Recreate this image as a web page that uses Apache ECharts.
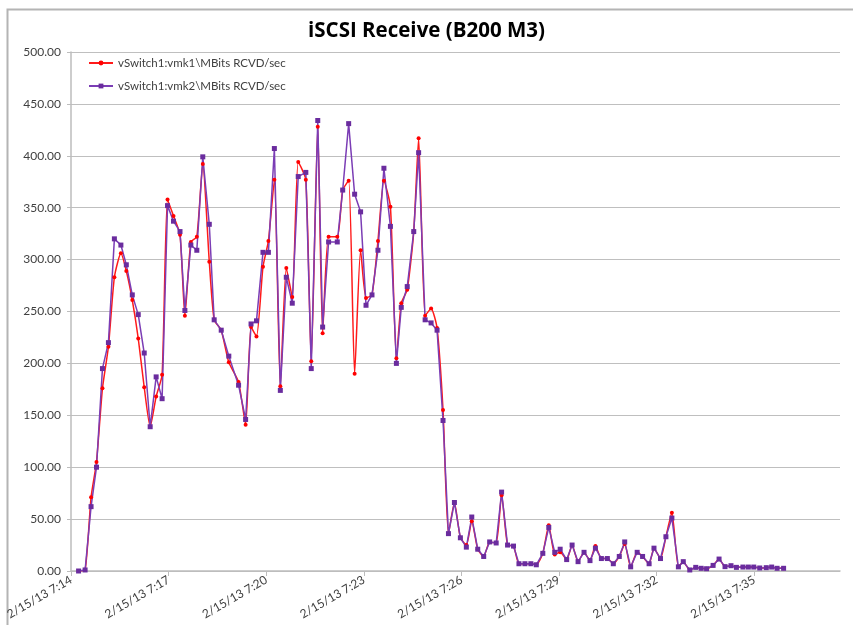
<!DOCTYPE html>
<html>
<head>
<meta charset="utf-8">
<title>iSCSI Receive (B200 M3)</title>
<script src="https://cdn.jsdelivr.net/npm/echarts@6/dist/echarts.min.js"></script>
<style>
  html, body { margin: 0; padding: 0; background: #fff; }
  #chart { width: 853px; height: 625px; }
</style>
</head>
<body>
<div id="chart"></div>
<script>
  // sample times, seconds after 2/15/13 7:14:00 (esxtop samples, not quite regular)
  const sampleSecs = [
    14, 26, 37, 47, 58, 69, 80, 92, 102, 113,
    124, 135, 146, 157, 168, 178, 189, 201, 210, 221,
    232, 243, 255, 264, 277, 291, 309, 322, 332, 342,
    354, 364, 375, 386, 397, 408, 419, 433, 443, 455,
    464, 475, 491, 501, 512, 523, 534, 544, 555, 566,
    577, 589, 600, 609, 620, 632, 641, 653, 664, 675,
    686, 696, 707, 718, 729, 739, 750, 761, 772, 784,
    794, 805, 816, 826, 837, 848, 858, 870, 881, 892,
    902, 914, 924, 935, 946, 957, 967, 978, 989, 1000,
    1011, 1021, 1032, 1044, 1054, 1066, 1075, 1087, 1097, 1108,
    1120, 1129, 1141, 1152, 1162, 1172, 1184, 1195, 1206, 1217,
    1227, 1239, 1249, 1259, 1270, 1282, 1292, 1302, 1314
  ];

  // vSwitch1:vmk1\MBits RCVD/sec
  const vmk1 = [
    0, 1, 71, 105, 176, 216, 283, 306, 289, 261,
    224, 177, 139, 168, 189, 358, 342, 324, 246, 317,
    322, 392, 298, 242, 232, 201, 182, 141, 235, 226,
    293, 318, 377, 178, 292, 264, 394, 377, 202, 428,
    229, 322, 322, 367, 376, 190, 309, 263, 266, 318,
    376, 351, 205, 258, 271, 327, 417, 246, 253, 234,
    155, 36, 66, 32, 25, 48, 21, 14, 28, 27,
    73, 25, 24, 7, 7, 7, 6, 17, 44, 16,
    18, 11, 25, 9, 18, 10, 24, 12, 12, 7,
    14, 26, 4, 18, 14, 7, 22, 12, 33, 56,
    4, 9, 1, 3.5, 2.6, 2.2, 5.4, 11.5, 4.2, 5.1,
    3.5, 3.8, 3.8, 3.8, 2.9, 3.2, 3.8, 2.6, 2.6
  ];

  // vSwitch1:vmk2\MBits RCVD/sec
  const vmk2 = [
    0, 1, 62, 100, 195, 220, 320, 314, 295, 266,
    247, 210, 139, 187, 166, 352, 337, 327, 251, 314,
    309, 399, 334, 242, 232, 207, 179, 146, 238, 241,
    307, 307, 407, 174, 283, 258, 380, 384, 195, 434,
    235, 317, 317, 367, 431, 363, 346, 256, 266, 309,
    388, 332, 200, 254, 274, 327, 403, 242, 239, 232,
    145, 36, 66, 32, 23, 52, 21, 14, 28, 27,
    76, 25, 24, 7, 7, 7, 6, 17, 42, 18,
    21, 11, 25, 9, 18, 10, 22, 12, 12, 7,
    14, 28, 4, 18, 14, 7, 22, 12, 33, 51,
    4, 9, 1, 3.5, 2.6, 2.2, 5.4, 11.5, 4.2, 5.1,
    3.5, 3.8, 3.8, 3.8, 2.9, 3.2, 3.8, 2.6, 2.6
  ];

  const tickLabels = [
    '2/15/13 7:14', '2/15/13 7:17', '2/15/13 7:20', '2/15/13 7:23',
    '2/15/13 7:26', '2/15/13 7:29', '2/15/13 7:32', '2/15/13 7:35'
  ];
  const tickStep = 180;   // 3 minutes
  const axisEnd = 1418;

  const names = ['vSwitch1:vmk1\\MBits RCVD/sec', 'vSwitch1:vmk2\\MBits RCVD/sec'];
  const font = 'Lato, "Open Sans", sans-serif';

  function pairs(vals) {
    return vals.map(function (v, i) { return [sampleSecs[i], v]; });
  }

  let myChart = echarts.init(document.getElementById('chart'));

  myChart.setOption({
    animation: false,
    backgroundColor: '#fff',
    title: {
      text: 'iSCSI Receive (B200 M3)',
      left: 'center',
      top: 21,
      padding: [0, 0, 0, 59],
      textStyle: { fontFamily: '"Open Sans", Lato, sans-serif', fontWeight: 'bold', fontSize: 20.5, color: '#000' }
    },
    legend: {
      orient: 'vertical',
      left: 83,
      top: 52,
      itemGap: 11,
      itemWidth: 24,
      itemHeight: 6,
      data: names,
      textStyle: { fontFamily: font, fontSize: 11.5, color: '#404040' }
    },
    grid: { left: 71, right: 13, top: 52, bottom: 54 },
    xAxis: {
      type: 'value',
      min: 0,
      max: axisEnd,
      interval: tickStep,
      axisLine: { show: true, lineStyle: { color: '#bdbdbd', width: 1.5 } },
      axisTick: { show: true, length: 5, lineStyle: { color: '#bdbdbd' } },
      splitLine: { show: false },
      axisLabel: {
        rotate: 30,
        margin: 8,
        color: '#404040',
        fontFamily: font,
        fontSize: 12,
        showMaxLabel: false,
        formatter: function (v) {
          if (v % tickStep !== 0) return '';
          return tickLabels[v / tickStep] || '';
        }
      }
    },
    yAxis: {
      type: 'value',
      min: 0,
      max: 500,
      interval: 50,
      axisLine: { show: true, lineStyle: { color: '#bdbdbd', width: 1.5 } },
      axisTick: { show: true, length: 4, lineStyle: { color: '#bdbdbd' } },
      splitLine: { lineStyle: { color: '#bfbfbf', width: 1.2 } },
      axisLabel: {
        margin: 10,
        color: '#404040',
        fontFamily: font,
        fontSize: 12,
        formatter: function (v) { return v.toFixed(2); }
      }
    },
    graphic: [{
      type: 'rect',
      left: 5,
      top: 7,
      silent: true,
      shape: { width: 870, height: 640 },
      style: { fill: 'none', stroke: '#b4b4b4', lineWidth: 2 }
    }],
    series: [
      {
        name: names[0],
        type: 'line',
        data: pairs(vmk1),
        smooth: 0.2,
        showAllSymbol: true,
        symbol: 'circle',
        symbolSize: 4,
        lineStyle: { color: '#ff1a1a', width: 1.5 },
        itemStyle: { color: '#ff0000' }
      },
      {
        name: names[1],
        type: 'line',
        data: pairs(vmk2),
        showAllSymbol: true,
        symbol: 'rect',
        symbolSize: 5,
        lineStyle: { color: '#7b3db5', width: 1.5 },
        itemStyle: { color: '#6a2c9e' }
      }
    ]
  });
</script>
</body>
</html>
